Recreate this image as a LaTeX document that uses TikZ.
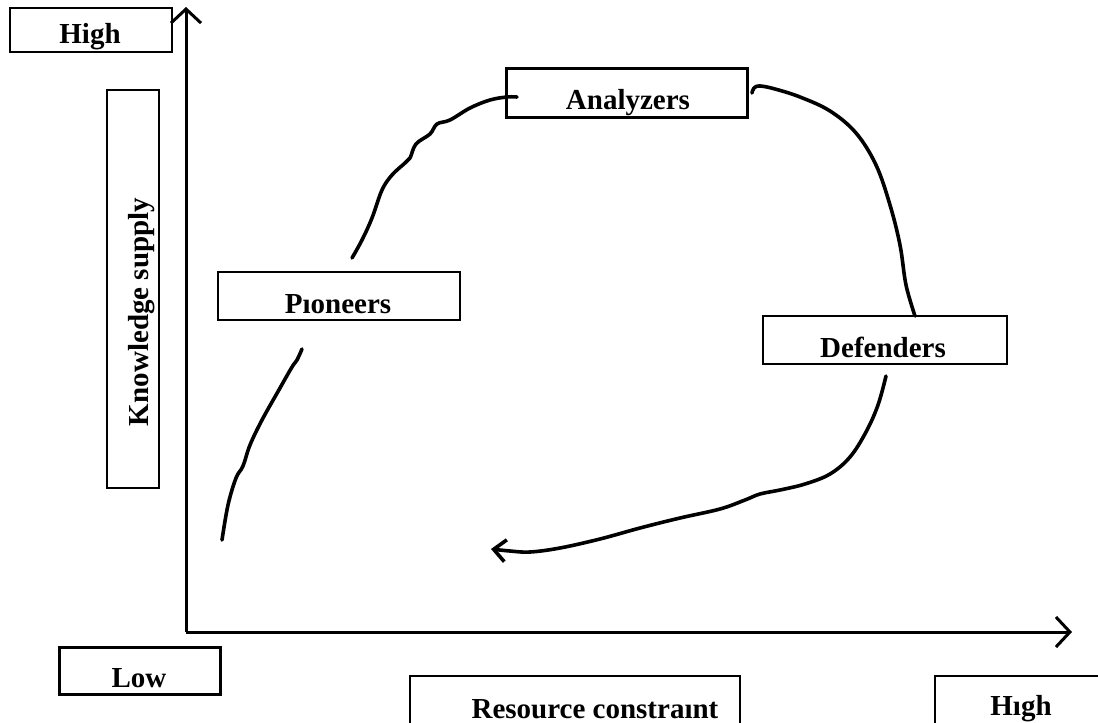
\documentclass[tikz,border=0pt]{standalone}
\usepackage{fontspec}
\setmainfont{Liberation Serif}
\usetikzlibrary{arrows.meta}
\begin{document}
\begin{tikzpicture}[x=1pt,y=-1pt,
  box/.style={draw, line width=2.4pt, inner sep=0pt},
  txt/.style={anchor=base, inner sep=0pt, font=\fontsize{29}{31}\selectfont\bfseries},
  axis/.style={line width=3pt, -{Straight Barb[length=14pt,width=30pt,line width=3pt]}},
  pen/.style={line width=3.6pt, line cap=round, line join=round},
  penarrow/.style={pen, -{Straight Barb[length=12pt,width=22pt,line width=3.6pt]}},
]
\useasboundingbox (0,0) rectangle (1098,723);
\clip (0,0) rectangle (1098,723);

% axes
\coordinate (origin) at (186,632);
\coordinate (ytop) at (186,7);
\coordinate (xend) at (1072,632);
\draw[axis] (origin) -- (ytop);
\draw[axis] (origin) -- (xend);

% frames
\node[box, minimum width=162, minimum height=44] (highL) at (91,30) {};
\node[box, minimum width=52, minimum height=398] (ksBox) at (133,289) {};
\node[box, minimum width=161, minimum height=47] (lowBox) at (140,671) {};
\node[box, minimum width=330, minimum height=80] (rcBox) at (575,716) {};
\node[box, minimum width=200, minimum height=80] (highR) at (1035,716) {};
\node[box, minimum width=241, minimum height=49] (anBox) at (627,93) {};
\node[box, minimum width=242, minimum height=48] (piBox) at (339,296) {};
\node[box, minimum width=244, minimum height=48] (deBox) at (885,340) {};

% labels
\node[txt] (highLt) at (90,43) {High};
\node[txt, rotate=90] (kst) at (148,312) {Knowledge supply};
\node[txt] (lowt) at (139,687) {Low};
\node[txt] (rct) at (595,718) {Resource constraınt};
\node[txt] (highRt) at (1021,715) {Hıgh};
\node[txt] (ant) at (628,109) {Analyzers};
\node[txt] (pit) at (338,313) {Pıoneers};
\node[txt] (det) at (883,357) {Defenders};

% hand-drawn path through the strategy types
\coordinate (c1a) at (222,540);
\coordinate (c1b) at (302,349);
\draw[pen] plot[smooth, tension=0.6] coordinates {(c1a) (228,505) (236,478) (243,466) (250,445) (262,420) (280,388) (292,367) (297,360) (c1b)};

\coordinate (c2a) at (352,258);
\coordinate (c2b) at (517,97);
\draw[pen] plot[smooth, tension=0.6] coordinates {(c2a) (362,240) (372,218) (382,190) (392,175) (405,163) (410,158) (416,144) (430,134) (437,124) (450,120) (470,108) (490,100) (507,97) (c2b)};

\coordinate (c3a) at (915,316);
\coordinate (c3b) at (752,93);
\draw[pen] plot[smooth, tension=0.6] coordinates {(c3a) (906,285) (900,245) (890,205) (876,165) (856,133) (830,111) (800,97) (775,89) (760,86) (754,88) (c3b)};

\coordinate (c4a) at (886,376);
\coordinate (c4b) at (491,549);
\draw[penarrow] plot[smooth, tension=0.6] coordinates {(c4a) (878,405) (866,432) (850,457) (830,474) (805,484) (780,490) (760,494) (745,500) (720,509) (680,518) (640,528) (600,539) (560,548) (530,552) (510,551) (c4b)};
\end{tikzpicture}
\end{document}
